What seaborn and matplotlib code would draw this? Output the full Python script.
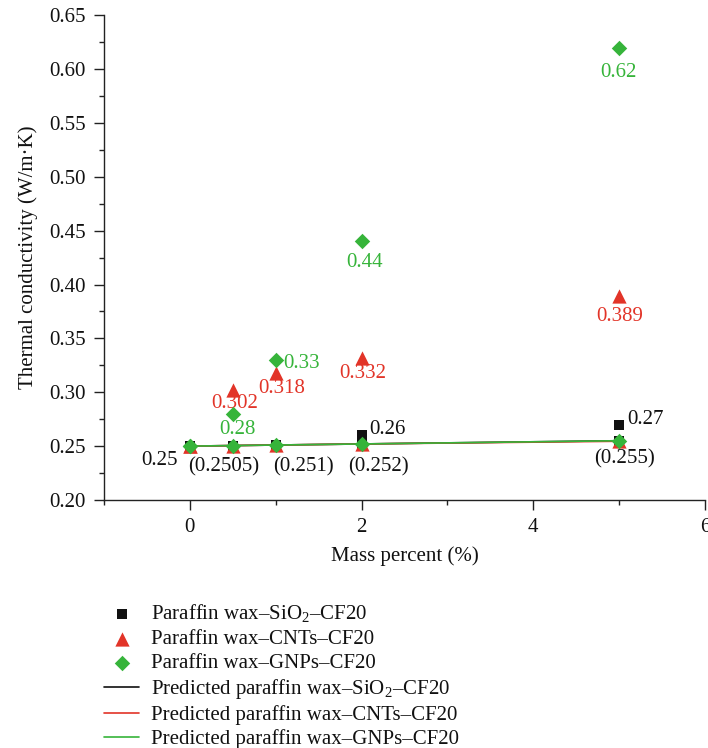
import matplotlib
matplotlib.use("Agg")
import matplotlib.pyplot as plt
from matplotlib.ticker import MultipleLocator
import seaborn as sns

# measured thermal conductivity (W/m.K) vs mass percent
mass = [0, 0.5, 1, 2, 5]
sio2 = [0.25, 0.25, 0.25, 0.26, 0.27]
cnts = [0.25, 0.302, 0.318, 0.332, 0.389]
gnps = [0.25, 0.28, 0.33, 0.44, 0.62]

# predicted values (same model curve for the three composites)
pred_sio2 = [0.25, 0.2505, 0.251, 0.252, 0.255]
pred_cnts = [0.25, 0.2505, 0.251, 0.252, 0.2545]
pred_gnps = [0.25, 0.2505, 0.251, 0.252, 0.255]

# value labels: (text, x, y, colour key)
labels = [
    ("0.25", -0.35, 0.237, "k"),
    ("(0.2505)", 0.39, 0.2307, "k"),
    ("(0.251)", 1.32, 0.2307, "k"),
    ("(0.252)", 2.2, 0.2307, "k"),
    ("(0.255)", 5.06, 0.2385, "k"),
    ("0.26", 2.3, 0.2657, "k"),
    ("0.27", 5.31, 0.2743, "k"),
    ("0.302", 0.52, 0.2899, "r"),
    ("0.318", 1.07, 0.3038, "r"),
    ("0.332", 2.01, 0.3177, "r"),
    ("0.389", 5.0, 0.370, "r"),
    ("0.28", 0.55, 0.2657, "g"),
    ("0.33", 1.30, 0.327, "g"),
    ("0.44", 2.03, 0.4206, "g"),
    ("0.62", 4.99, 0.597, "g"),
]

colors = {"k": "#111111", "r": "#e23428", "g": "#36b43a"}

sns.set_style("ticks")
plt.rcParams["font.family"] = ["Liberation Serif", "DejaVu Serif"]
plt.rcParams["mathtext.fontset"] = "custom"
plt.rcParams["mathtext.rm"] = "Liberation Serif"

fig = plt.figure(figsize=(7.08, 7.48), dpi=100)
ax = fig.add_axes([0.1469, 0.3316, 0.849, 0.648])

# measured points
sns.scatterplot(x=mass, y=sio2, marker="s", s=62, color=colors["k"], linewidth=0,
                label="Paraffin wax–SiO$_\\mathregular{2}$–CF20", ax=ax, zorder=4)
sns.scatterplot(x=mass, y=cnts, marker="^", s=105, color=colors["r"], linewidth=0,
                label="Paraffin wax–CNTs–CF20", ax=ax, zorder=5)
sns.scatterplot(x=mass, y=gnps, marker="D", s=62, color=colors["g"], linewidth=0,
                label="Paraffin wax–GNPs–CF20", ax=ax, zorder=6)

# predicted lines
sns.lineplot(x=mass, y=pred_sio2, color=colors["k"], linewidth=1.2,
             label="Predicted paraffin wax–SiO$_\\mathregular{2}$–CF20", ax=ax, zorder=2)
sns.lineplot(x=mass, y=pred_cnts, color=colors["r"], linewidth=1.2,
             label="Predicted paraffin wax–CNTs–CF20", ax=ax, zorder=2)
sns.lineplot(x=mass, y=pred_gnps, color=colors["g"], linewidth=1.2,
             label="Predicted paraffin wax–GNPs–CF20", ax=ax, zorder=2)

# predicted points
sns.scatterplot(x=mass, y=pred_sio2, marker="s", s=62, color=colors["k"], linewidth=0,
                ax=ax, zorder=4, legend=False)
sns.scatterplot(x=mass, y=pred_cnts, marker="^", s=105, color=colors["r"], linewidth=0,
                ax=ax, zorder=5, legend=False)
sns.scatterplot(x=mass, y=pred_gnps, marker="D", s=62, color=colors["g"], linewidth=0,
                ax=ax, zorder=6, legend=False)

for txt, x, y, c in labels:
    ax.text(x, y, txt, color=colors[c], fontsize=15, ha="center", va="center")

ax.set_xlim(-1, 6)
ax.set_ylim(0.2, 0.65)
ax.xaxis.set_major_locator(MultipleLocator(2))
ax.xaxis.set_minor_locator(MultipleLocator(1))
ax.yaxis.set_major_locator(MultipleLocator(0.05))
ax.yaxis.set_minor_locator(MultipleLocator(0.025))
ax.yaxis.set_major_formatter(plt.FormatStrFormatter("%.2f"))
ax.tick_params(which="major", direction="out", length=7, width=1, labelsize=15, pad=6,
               colors="#222222", labelcolor="#111111")
ax.tick_params(which="minor", direction="out", length=3.5, width=1, colors="#222222")
for side in ["left", "bottom"]:
    ax.spines[side].set_linewidth(1)
    ax.spines[side].set_color("#222222")
sns.despine(ax=ax)

ax.set_xlabel("Mass percent (%)", fontsize=15, labelpad=7, color="#111111")
ax.set_ylabel("Thermal conductivity (W/m·K)", fontsize=15, labelpad=8, color="#111111")

handles, names = ax.get_legend_handles_labels()
leg = ax.legend(handles, names, loc="upper left", bbox_to_anchor=(0.147, 0.194),
                bbox_transform=fig.transFigure, frameon=False, fontsize=15,
                handlelength=1.7, handletextpad=0.55, labelspacing=0.2, borderpad=0,
                borderaxespad=0)
for t in leg.get_texts():
    t.set_color("#111111")

fig.savefig("out.png", dpi=100)
